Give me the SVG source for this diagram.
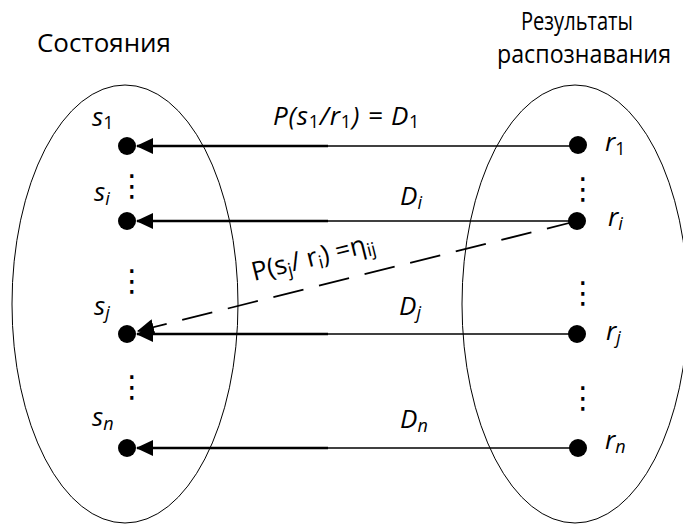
<svg xmlns="http://www.w3.org/2000/svg" width="683" height="524" viewBox="0 0 683 524">
<style>
text{font-family:"Open Sans","Noto Sans","DejaVu Sans",sans-serif;font-size:26px;fill:#000}
.head{font-size:25px}
.it{font-style:italic}
.sub{font-size:18px}
.up{font-style:normal}
.dots{font-family:"DejaVu Sans",sans-serif;font-size:30px;text-anchor:middle}
.oval{fill:none;stroke:#000;stroke-width:1}
.dot{fill:#000}
.thick{stroke:#000;stroke-width:2.5;fill:none}
.thin{stroke:#000;stroke-width:1.6;fill:none}
.dash{stroke:#000;stroke-width:1.8;fill:none;stroke-dasharray:31 16}
</style>
<defs>
<marker id="ah" viewBox="0 0 17 16" refX="16" refY="8" markerWidth="17" markerHeight="16" markerUnits="userSpaceOnUse" orient="auto">
<path d="M0,0 L17,8 L0,16 z" fill="#000"/>
</marker>
</defs>
<rect width="683" height="524" fill="#fff"/>
<g id="states">
<ellipse class="oval" cx="125" cy="304" rx="113" ry="219"/>
<text class="head" x="37" y="52" textLength="134" lengthAdjust="spacingAndGlyphs">Состояния</text>
</g>
<g id="results">
<ellipse class="oval" cx="575" cy="304" rx="113" ry="219"/>
<text class="head" x="521" y="30" textLength="112" lengthAdjust="spacingAndGlyphs">Результаты</text>
<text class="head" x="497" y="63" textLength="174" lengthAdjust="spacingAndGlyphs">распознавания</text>
</g>
<g id="connectors">
<line class="thin" x1="578" y1="146" x2="326" y2="146"/>
<line class="thick" x1="328" y1="146" x2="137" y2="146" marker-end="url(#ah)"/>
<line class="thin" x1="578" y1="221" x2="326" y2="221"/>
<line class="thick" x1="328" y1="221" x2="137" y2="221" marker-end="url(#ah)"/>
<line class="thin" x1="578" y1="334" x2="326" y2="334"/>
<line class="thick" x1="328" y1="334" x2="137" y2="334" marker-end="url(#ah)"/>
<line class="thin" x1="578" y1="448" x2="326" y2="448"/>
<line class="thick" x1="328" y1="448" x2="137" y2="448" marker-end="url(#ah)"/>
<line class="dash" x1="577" y1="221" x2="138" y2="331" marker-end="url(#ah)"/>
<text class="it" x="273" y="125" letter-spacing="0.8">P(s<tspan class="sub up" dy="3">1</tspan><tspan dy="-3">/r</tspan><tspan class="sub up" dy="3">1</tspan><tspan dy="-3">) = D</tspan><tspan class="sub up" dy="3">1</tspan></text>
<text class="it" x="400" y="205">D<tspan class="sub" dy="4">i</tspan></text>
<text class="it" x="399" y="315">D<tspan class="sub" dy="4">j</tspan></text>
<text class="it" x="400" y="428">D<tspan class="sub" dy="4">n</tspan></text>
<text transform="rotate(-14 254 281)" x="254" y="281" font-size="25">P(s<tspan class="sub" dy="4">j</tspan><tspan dy="-4">/ r</tspan><tspan class="sub" dy="4">i</tspan><tspan dy="-4">) =η</tspan><tspan class="sub" dy="4">ij</tspan></text>
</g>
<g id="s1"><circle class="dot" cx="127" cy="146" r="9"/><text class="it" x="92" y="126">s<tspan class="sub up" dy="3">1</tspan></text></g>
<g id="si"><circle class="dot" cx="127" cy="221" r="9"/><text class="it" x="94" y="201">s<tspan class="sub" dy="4">i</tspan></text></g>
<g id="sj"><circle class="dot" cx="127" cy="334" r="9"/><text class="it" x="94" y="315">s<tspan class="sub" dy="4">j</tspan></text></g>
<g id="sn"><circle class="dot" cx="127" cy="448" r="9"/><text class="it" x="92" y="426">s<tspan class="sub" dy="4">n</tspan></text></g>
<g id="r1"><circle class="dot" cx="578" cy="145" r="9"/><text class="it" x="605" y="151">r<tspan class="sub up" dy="4">1</tspan></text></g>
<g id="ri"><circle class="dot" cx="577" cy="221" r="9"/><text class="it" x="608" y="226">r<tspan class="sub" dy="4">i</tspan></text></g>
<g id="rj"><circle class="dot" cx="577" cy="334" r="9"/><text class="it" x="606" y="340">r<tspan class="sub" dy="4">j</tspan></text></g>
<g id="rn"><circle class="dot" cx="578" cy="448" r="9"/><text class="it" x="605" y="449">r<tspan class="sub" dy="4">n</tspan></text></g>
<g id="ellipses">
<text class="dots" x="132" y="196">⋮</text>
<text class="dots" x="132" y="291">⋮</text>
<text class="dots" x="132" y="397">⋮</text>
<text class="dots" x="583" y="199">⋮</text>
<text class="dots" x="583" y="303">⋮</text>
<text class="dots" x="583" y="408">⋮</text>
</g>
</svg>
